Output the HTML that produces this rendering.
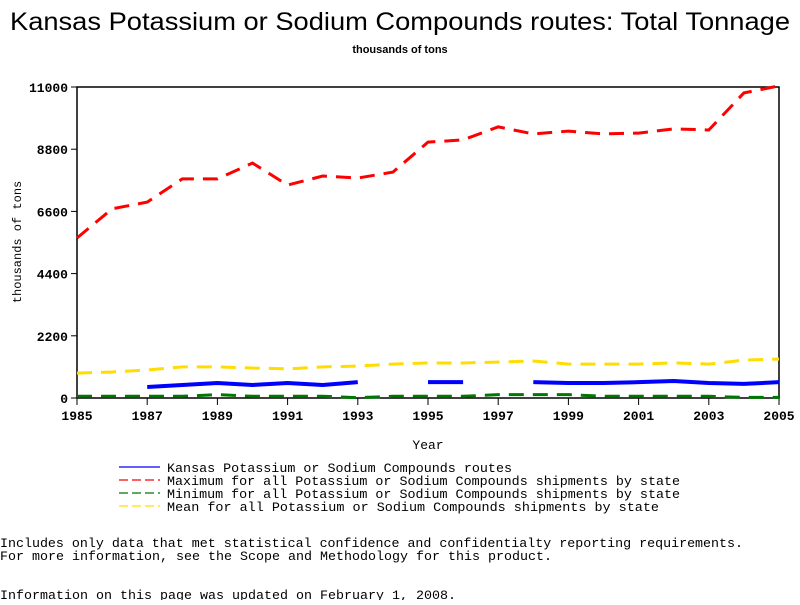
<!DOCTYPE html>
<html><head><meta charset="utf-8"><style>
body{margin:0;background:#fff;width:800px;height:600px;overflow:hidden}
svg text{font-family:"Liberation Mono","DejaVu Sans Mono",monospace}
</style></head><body>
<svg width="800" height="600">
<text x="10" y="30" textLength="780" lengthAdjust="spacingAndGlyphs" font-size="25" style="font-family:'Liberation Sans',sans-serif">Kansas Potassium or Sodium Compounds routes: Total Tonnage</text>
<text x="400" y="53" text-anchor="middle" font-size="11" font-weight="bold" style="font-family:'Liberation Sans',sans-serif">thousands of tons</text>
<rect x="77" y="87" width="702" height="311" fill="none" stroke="#000" stroke-width="1.5"/>
<g id="yt"></g>
<g id="xt"></g>
<text transform="translate(21,242) rotate(-90)" text-anchor="middle" font-size="12">thousands of tons</text>
<text x="428" y="449" text-anchor="middle" font-size="13">Year</text>
<g id="series"></g>
<g font-size="13">
<g><line x1="119" x2="160" y1="467" y2="467" stroke="#00f" stroke-width="1.2"/><text x="167" y="472" textLength="345" lengthAdjust="spacingAndGlyphs">Kansas Potassium or Sodium Compounds routes</text></g>
<g><line x1="119" x2="160" y1="480" y2="480" stroke="#f00" stroke-width="1.2" stroke-dasharray="9,4"/><text x="167" y="485" textLength="513" lengthAdjust="spacingAndGlyphs">Maximum for all Potassium or Sodium Compounds shipments by state</text></g>
<g><line x1="119" x2="160" y1="493" y2="493" stroke="#070" stroke-width="1.2" stroke-dasharray="9,4"/><text x="167" y="498" textLength="513" lengthAdjust="spacingAndGlyphs">Minimum for all Potassium or Sodium Compounds shipments by state</text></g>
<g><line x1="119" x2="160" y1="506" y2="506" stroke="#fd0" stroke-width="1.2" stroke-dasharray="9,4"/><text x="167" y="511" textLength="492" lengthAdjust="spacingAndGlyphs">Mean for all Potassium or Sodium Compounds shipments by state</text></g>
</g>
<text x="0" y="547" font-size="13" textLength="743" lengthAdjust="spacingAndGlyphs">Includes only data that met statistical confidence and confidentialty reporting requirements.</text>
<text x="0" y="560" font-size="13" textLength="552" lengthAdjust="spacingAndGlyphs">For more information, see the Scope and Methodology for this product.</text>
<text x="0" y="599" font-size="13" textLength="456" lengthAdjust="spacingAndGlyphs">Information on this page was updated on February 1, 2008.</text>
</svg>
<script>
const years=[1985,1986,1987,1988,1989,1990,1991,1992,1993,1994,1995,1996,1997,1998,1999,2000,2001,2002,2003,2004,2005];
const maxVals=[5660,6690,6930,7750,7750,8310,7530,7850,7780,7990,9050,9130,9590,9340,9440,9340,9370,9520,9480,10790,11040];
const meanVals=[880,920,990,1100,1100,1060,1030,1100,1130,1200,1240,1240,1270,1310,1200,1200,1200,1240,1200,1340,1380];
const kansasVals=[null,null,390,460,530,460,530,460,560,null,560,560,null,560,530,530,560,600,530,500,560];
const minVals=[60,60,60,60,120,60,60,60,10,60,60,60,120,120,120,60,60,60,60,20,20];
const yTicks=[0,2200,4400,6600,8800,11000];
const xTicks=[1985,1987,1989,1991,1993,1995,1997,1999,2001,2003,2005];
const NS="http://www.w3.org/2000/svg";
const X=v=>77+(v-1985)*(702/20);
const Y=v=>398-v*(311/11000);
const yt=document.getElementById('yt'),xt=document.getElementById('xt'),sg=document.getElementById('series');
function mk(t,a,p){const e=document.createElementNS(NS,t);for(const k in a)e.setAttribute(k,a[k]);p.appendChild(e);return e;}
yTicks.forEach(v=>{
 const l=mk('line',{x1:71,x2:77,y1:Y(v),y2:Y(v),stroke:'#000'},yt);
 
 
 const t=mk('text',{x:68,y:Y(v)+5,'text-anchor':'end','font-size':13,'font-weight':'bold'},yt);t.textContent=v;
 
 
});
xTicks.forEach(v=>{
 const l=mk('line',{x1:X(v),x2:X(v),y1:398,y2:405,stroke:'#000'},xt);
 
 
 const t=mk('text',{x:X(v),y:420,'text-anchor':'middle','font-size':13,'font-weight':'bold'},xt);t.textContent=v;
 
 
});
function draw(vals,color,w,dash,name){
 let segs=[],cur=[];
 vals.forEach((v,i)=>{if(v==null){if(cur.length)segs.push(cur);cur=[];}else cur.push(X(years[i])+','+Y(v));});
 if(cur.length)segs.push(cur);
 segs.forEach(s=>{
  if(s.length<2)return;
  const a={points:s.join(' '),fill:'none',stroke:color,'stroke-width':w};
  if(dash)a['stroke-dasharray']=dash;
  const p=mk('polyline',a,sg);
  
  
 });
}
draw(meanVals,'#fd0',3,'15,9','mean-line');
draw(minVals,'#070',3,'15,9','minimum-line');
draw(kansasVals,'#00f',4,null,'kansas-line');
draw(maxVals,'#f00',3,'15,9','maximum-line');
</script>
</body></html>
